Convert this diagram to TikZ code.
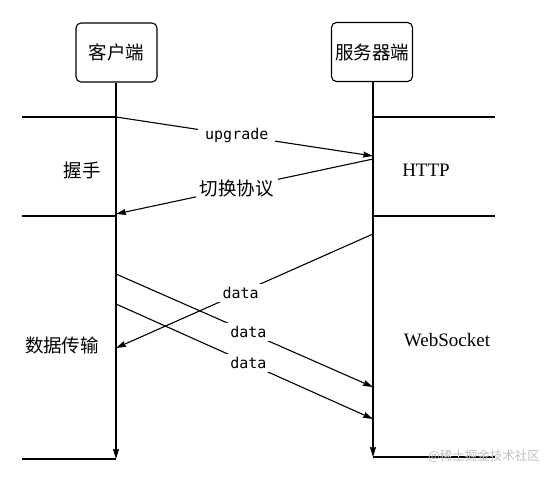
\documentclass[tikz,border=0pt]{standalone}
\usepackage{fontspec}
\setmainfont{Liberation Serif}
\newfontfamily\cjk{Noto Sans CJK SC}
\newfontfamily\monof{DejaVu Sans Mono}
\usetikzlibrary{arrows.meta}
\begin{document}
\begin{tikzpicture}[x=1pt,y=-1pt,
  actor/.style={draw,line width=1.1pt,rounded corners=5pt,minimum width=81pt,minimum height=59pt,inner sep=0pt,font=\cjk\fontsize{18.5}{20}\selectfont},
  side/.style={font=\cjk\fontsize{18.5}{20}\selectfont},
  proto/.style={font=\fontsize{19}{21}\selectfont},
  msg/.style={fill=white,inner xsep=7pt,inner ysep=3pt,font=\monof\fontsize{15}{16}\selectfont},
  cmsg/.style={fill=white,inner xsep=4pt,inner ysep=2pt,font=\cjk\fontsize{18.5}{20}\selectfont},
  ln/.style={line width=1.1pt},
  arr/.style={ln,-{Stealth[length=10pt,width=6pt,inset=1pt]}}]
\useasboundingbox (0,0) rectangle (550,478);
% actors
\node[actor] (cli) at (116.5,52.5) {客户端};
\node[actor] (srv) at (372,52) {服务器端};
% lifeline coordinates
\coordinate (cend) at (116,459);
\coordinate (send) at (373,457);
\coordinate (c1) at (116,117);
\coordinate (c2) at (116,214);
\coordinate (c3) at (116,274);
\coordinate (c4) at (116,304);
\coordinate (c5) at (116,348);
\coordinate (s1) at (373,156);
\coordinate (s2) at (373,159);
\coordinate (s3) at (373,234);
\coordinate (s4) at (373,387);
\coordinate (s5) at (373,419);
% horizontal separators
\coordinate (l1) at (22,117);
\coordinate (r1a) at (373,117);
\coordinate (r1) at (495,117);
\coordinate (l2) at (22,216);
\coordinate (c2b) at (116,216);
\coordinate (r2a) at (373,216);
\coordinate (r2) at (495,216);
\coordinate (l3) at (22,459);
\coordinate (r3) at (495,457);
\draw[ln] (l1) -- (c1);
\draw[ln] (r1a) -- (r1);
\draw[ln] (l2) -- (c2b);
\draw[ln] (r2a) -- (r2);
\draw[ln] (l3) -- (cend);
\draw[ln] (send) -- (r3);
% lifelines
\draw[arr] (cli.south -| cend) -- (cend);
\draw[arr] (srv.south -| send) -- (send);
% messages
\draw[arr] (c1) -- node[msg,pos=0.47] (m1) {upgrade} (s1);
\draw[arr] (s2) -- node[cmsg,pos=0.53] (m2) {切换协议} (c2);
\draw[arr] (s3) -- node[msg,pos=0.515] (m3) {data} (c5);
\draw[arr] (c3) -- node[msg,pos=0.515] (m4) {data} (s4);
\draw[arr] (c4) -- node[msg,pos=0.515] (m5) {data} (s5);
% side labels
\node[side] (hs) at (82,170) {握手};
\node[proto] (http) at (426,170) {HTTP};
\node[side] (dt) at (62,345) {数据传输};
\node[proto] (ws) at (447,340) {WebSocket};
% watermark
\node[font=\cjk\fontsize{12.5}{14}\selectfont,text=black!25,inner sep=0pt] (wm) at (484,456) {@稀土掘金技术社区};
\end{tikzpicture}
\end{document}
